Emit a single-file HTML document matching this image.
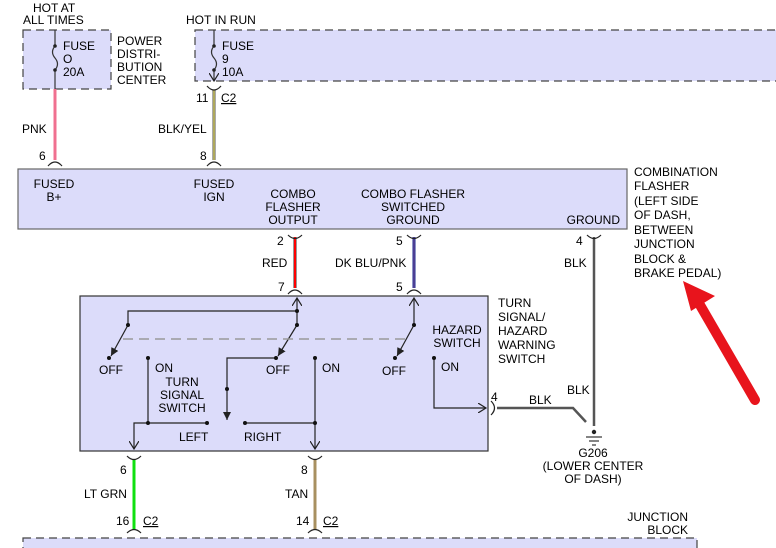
<!DOCTYPE html>
<html><head><meta charset="utf-8"><style>
html,body{margin:0;padding:0;background:#fff}
svg{display:block}
text{font-family:"Liberation Sans",Arial,sans-serif;font-size:12px;fill:#000}
</style></head><body>
<svg width="776" height="548" viewBox="0 0 776 548" xmlns="http://www.w3.org/2000/svg">
<defs>
<marker id="ah" markerWidth="10" markerHeight="10" refX="8" refY="5" orient="auto" markerUnits="userSpaceOnUse">
<path d="M0,0 L8,5 L0,10" fill="none" stroke="#222" stroke-width="1.2"/></marker>
<marker id="fa" markerWidth="10" markerHeight="10" refX="8" refY="5" orient="auto" markerUnits="userSpaceOnUse">
<path d="M0,1 L8,5 L0,9 z" fill="#222"/></marker>
</defs>
<g fill="#dcdcfa" stroke="#444" stroke-width="1.2">
<rect x="23" y="30" width="88" height="59" stroke-dasharray="8,5"/>
<rect x="195" y="30" width="600" height="51" stroke-dasharray="8,5"/>
<rect x="18" y="169" width="609" height="60" stroke="#666"/>
<rect x="80" y="296" width="408" height="155" stroke="#333"/>
<rect x="23" y="538" width="674" height="30" stroke-dasharray="8,5"/>
</g>
<g stroke="#333" stroke-width="1.2" fill="none">
<line x1="55" y1="30" x2="55" y2="46"/><path d="M55,46 q-5,6 0,12 q5,6 0,12"/><line x1="55" y1="70" x2="55" y2="89"/>
<line x1="214" y1="30" x2="214" y2="46"/><path d="M214,46 q-5,6 0,12 q5,6 0,12"/><line x1="214" y1="70" x2="214" y2="81" marker-end="url(#ah)"/>
</g>
<g fill="#222"><circle cx="55" cy="46" r="1.8"/><circle cx="55" cy="70" r="1.8"/><circle cx="214" cy="46" r="1.8"/><circle cx="214" cy="70" r="1.8"/></g>
<line x1="55" y1="89" x2="55" y2="160" stroke="#f07090" stroke-width="3"/>
<line x1="214" y1="90" x2="214" y2="160" stroke="#555" stroke-width="3"/><line x1="214" y1="90" x2="214" y2="160" stroke="#e8e060" stroke-width="1.2"/>
<line x1="295" y1="237" x2="295" y2="288" stroke="#333" stroke-width="3"/><line x1="295" y1="237" x2="295" y2="288" stroke="#f00" stroke-width="2"/>
<line x1="414" y1="237" x2="414" y2="288" stroke="#1a2a90" stroke-width="3"/><line x1="414" y1="237" x2="414" y2="288" stroke="#c070a0" stroke-width="0.6"/>
<line x1="594" y1="237" x2="594" y2="426" stroke="#555" stroke-width="2.5"/>
<path d="M497,408 L573,408 L586,422" fill="none" stroke="#555" stroke-width="2.5"/>
<line x1="134" y1="459" x2="134" y2="530" stroke="#10e010" stroke-width="3"/>
<line x1="315" y1="459" x2="315" y2="530" stroke="#a89060" stroke-width="3"/>
<g stroke="#222" stroke-width="1.2" fill="none">
<path d="M48,166 Q55,158 62,166"/><path d="M207,166 Q214,158 221,166"/>
<path d="M207,86 Q214,94 221,86"/>
<path d="M288,235 Q295,242 302,235"/><path d="M407,235 Q414,242 421,235"/><path d="M587,235 Q594,242 601,235"/>
<path d="M288,294 Q295,286 302,294"/><path d="M407,294 Q414,286 421,294"/>
<path d="M127,456 Q134,463 141,456"/><path d="M308,456 Q315,463 322,456"/>
<path d="M127,533 Q134,526 141,533"/><path d="M308,533 Q315,526 322,533"/>
<path d="M491,401 Q498,408 491,415"/>
</g>
<g stroke="#222" stroke-width="1.2" fill="none">
<line x1="297" y1="325" x2="297" y2="298" marker-end="url(#ah)"/>
<polyline points="128,325 128,311 297,311"/>
<line x1="414" y1="325" x2="414" y2="298" marker-end="url(#ah)"/>
<line x1="128" y1="325" x2="111" y2="356" marker-end="url(#fa)"/>
<line x1="297" y1="325" x2="278" y2="356" marker-end="url(#fa)"/>
<line x1="414" y1="325" x2="397" y2="356" marker-end="url(#fa)"/>
<polyline points="276,358 227,358 227,420" marker-end="url(#fa)"/>
<line x1="148" y1="358" x2="148" y2="423"/>
<polyline points="207,423 134,423 134,449" marker-end="url(#ah)"/>
<polyline points="245,423 315,423"/>
<line x1="315" y1="358" x2="315" y2="449" marker-end="url(#ah)"/>
<polyline points="434,358 434,408 486,408" marker-end="url(#ah)"/>
</g>
<line x1="123" y1="339" x2="405" y2="339" stroke="#999" stroke-width="1.5" stroke-dasharray="10,6"/>
<g fill="#111">
<circle cx="297" cy="311" r="2"/><circle cx="297" cy="325" r="2"/><circle cx="128" cy="325" r="2"/><circle cx="109" cy="358" r="2"/>
<circle cx="276" cy="358" r="2"/><circle cx="414" cy="325" r="2"/><circle cx="395" cy="358" r="2"/>
<circle cx="148" cy="358" r="2"/><circle cx="148" cy="423" r="2"/><circle cx="207" cy="423" r="2"/><circle cx="227" cy="389" r="2"/>
<circle cx="245" cy="423" r="2"/><circle cx="315" cy="358" r="2"/><circle cx="315" cy="423" r="2"/><circle cx="434" cy="358" r="2"/>
</g>
<g stroke="#333" stroke-width="1.2"><line x1="586" y1="437" x2="602" y2="437"/><line x1="589" y1="441" x2="599" y2="441"/><line x1="592" y1="445" x2="596" y2="445"/></g>
<circle cx="594" cy="432" r="2.2" fill="#222"/>
<line x1="755" y1="400" x2="700" y2="305" stroke="#e8141c" stroke-width="10" stroke-linecap="round"/>
<polygon points="683,281 715,296 691,311" fill="#e8141c"/>
<text x="33" y="12">HOT AT</text><text x="23" y="24">ALL TIMES</text>
<text x="63" y="50">FUSE</text><text x="63" y="63">O</text><text x="63" y="76">20A</text>
<text x="117" y="45">POWER</text><text x="117" y="58">DISTRI-</text><text x="117" y="71">BUTION</text><text x="117" y="84">CENTER</text>
<text x="186" y="24">HOT IN RUN</text>
<text x="222" y="50">FUSE</text><text x="222" y="63">9</text><text x="222" y="76">10A</text>
<text x="196" y="102">11</text><text x="221" y="102" text-decoration="underline">C2</text>
<text x="22" y="133">PNK</text><text x="158" y="133">BLK/YEL</text>
<text x="39" y="160">6</text><text x="200" y="160">8</text>
<g text-anchor="middle">
<text x="54" y="188">FUSED</text><text x="54" y="201">B+</text>
<text x="214" y="188">FUSED</text><text x="214" y="201">IGN</text>
<text x="293" y="198">COMBO</text><text x="293" y="211">FLASHER</text><text x="293" y="224">OUTPUT</text>
<text x="413" y="198">COMBO FLASHER</text><text x="413" y="211">SWITCHED</text><text x="413" y="224">GROUND</text>
<text x="593" y="457">G206</text><text x="593" y="470">(LOWER CENTER</text><text x="593" y="483">OF DASH)</text>
<text x="182" y="386">TURN</text><text x="182" y="399">SIGNAL</text><text x="182" y="412">SWITCH</text>
<text x="457" y="334">HAZARD</text><text x="457" y="347">SWITCH</text>
</g>
<text x="620" y="224" text-anchor="end">GROUND</text>
<text x="634" y="176">COMBINATION</text><text x="634" y="190">FLASHER</text><text x="634" y="205">(LEFT SIDE</text><text x="634" y="219">OF DASH,</text><text x="634" y="234">BETWEEN</text><text x="634" y="248">JUNCTION</text><text x="634" y="263">BLOCK &amp;</text><text x="634" y="277">BRAKE PEDAL)</text>
<text x="277" y="245">2</text><text x="396" y="245">5</text><text x="576" y="245">4</text>
<text x="262" y="267">RED</text><text x="335" y="267">DK BLU/PNK</text><text x="564" y="267">BLK</text>
<text x="278" y="291">7</text><text x="396" y="291">5</text>
<text x="498" y="307">TURN</text><text x="498" y="321">SIGNAL/</text><text x="498" y="335">HAZARD</text><text x="498" y="349">WARNING</text><text x="498" y="363">SWITCH</text>
<text x="99" y="374">OFF</text><text x="266" y="374">OFF</text><text x="382" y="375">OFF</text>
<text x="155" y="372">ON</text><text x="322" y="372">ON</text><text x="441" y="371">ON</text>
<text x="179" y="441">LEFT</text><text x="244" y="441">RIGHT</text>
<text x="491" y="401">4</text><text x="529" y="404">BLK</text><text x="567" y="394">BLK</text>
<text x="120" y="474">6</text><text x="301" y="474">8</text>
<text x="84" y="498">LT GRN</text><text x="285" y="498">TAN</text>
<text x="116" y="525">16</text><text x="143" y="525" text-decoration="underline">C2</text>
<text x="296" y="525">14</text><text x="323" y="525" text-decoration="underline">C2</text>
<text x="688" y="521" text-anchor="end">JUNCTION</text><text x="688" y="534" text-anchor="end">BLOCK</text>
</svg>
</body></html>
